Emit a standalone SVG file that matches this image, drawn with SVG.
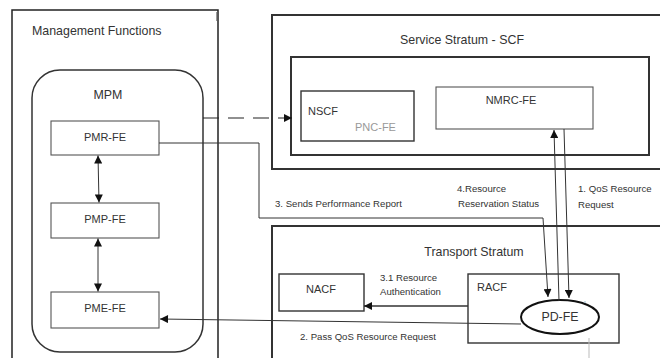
<svg xmlns="http://www.w3.org/2000/svg" width="660" height="358" viewBox="0 0 660 358">
<style>
text{font-family:"Liberation Sans",Arial,sans-serif;fill:#333}
.t{font-size:12.4px}
.n{font-size:11px}
.l{font-size:9.6px}
.c{text-anchor:middle}
.frame{fill:none;stroke:#222;stroke-width:1.5}
.strat{fill:none;stroke:#333;stroke-width:2}
.fe{fill:#fff;stroke:#555;stroke-width:1.1}
.fe2{fill:#fff;stroke:#333;stroke-width:1.4}
.conn{fill:none;stroke:#333;stroke-width:1}
</style>
<defs>
<marker id="ah" viewBox="0 0 10 10" refX="10" refY="5" markerWidth="9" markerHeight="8" markerUnits="userSpaceOnUse" orient="auto-start-reverse">
<path d="M0,0 L10,5 L0,10 z" fill="#111"/>
</marker>
</defs>
<rect width="660" height="358" fill="#fff"/>

<g id="management-functions">
<path class="frame" d="M12,358 V10 H218 V358"/>
<line x1="216.5" y1="12" x2="216.5" y2="21" stroke="#999" stroke-width="1"/>
<text class="t" x="32" y="35">Management Functions</text>
</g>

<g id="mpm">
<rect x="32" y="70" width="171" height="282" rx="28" ry="28" fill="none" stroke="#333" stroke-width="1.5"/>
<text class="t c" x="108" y="99">MPM</text>
</g>

<g id="pmr-fe">
<rect class="fe" x="51" y="121" width="108" height="34"/>
<text class="n c" x="105" y="141">PMR-FE</text>
</g>
<g id="pmp-fe">
<rect class="fe" x="51" y="203" width="108" height="35"/>
<text class="n c" x="105" y="223">PMP-FE</text>
</g>
<g id="pme-fe">
<rect class="fe" x="51" y="292" width="108" height="36"/>
<text class="n c" x="105" y="312">PME-FE</text>
</g>

<g id="service-stratum">
<rect class="strat" x="272" y="15" width="400" height="154"/>
<text class="t c" x="462" y="44">Service Stratum - SCF</text>
<rect class="strat" x="291" y="57" width="358" height="98"/>
</g>

<g id="nscf">
<rect class="fe2" x="301" y="91" width="113" height="50"/>
<text class="n" x="308" y="115">NSCF</text>
<text class="n" x="355" y="131" style="fill:#999">PNC-FE</text>
</g>

<g id="nmrc-fe">
<rect class="fe" x="436" y="87" width="157" height="42"/>
<text class="n c" x="511" y="104">NMRC-FE</text>
</g>

<g id="transport-stratum">
<path class="strat" d="M272,358 V226 H662"/>
<text class="t c" x="474" y="256">Transport Stratum</text>
</g>

<g id="nacf">
<rect class="fe2" x="279" y="274" width="85" height="37"/>
<text class="n c" x="321" y="293">NACF</text>
</g>

<g id="racf">
<rect class="fe2" x="468" y="274" width="151" height="69"/>
<text class="n" x="477" y="291">RACF</text>
</g>

<g id="pd-fe">
<ellipse cx="560" cy="317" rx="39" ry="17" fill="#fff" stroke="#111" stroke-width="2"/>
<text class="t c" x="560" y="321">PD-FE</text>
</g>

<g id="connectors">
<line class="conn" x1="98" y1="155.5" x2="99" y2="202.5" marker-start="url(#ah)" marker-end="url(#ah)"/>
<line class="conn" x1="98" y1="238.5" x2="98" y2="291.5" marker-start="url(#ah)" marker-end="url(#ah)"/>
<line x1="203" y1="118" x2="292" y2="118" fill="none" stroke="#222" stroke-width="1.2" stroke-dasharray="16 9" marker-end="url(#ah)"/>
<polyline class="conn" points="159,143 259,143 259,218 543,218 548,297" marker-end="url(#ah)"/>
<line class="conn" x1="559" y1="301" x2="554" y2="130" marker-end="url(#ah)"/>
<line class="conn" x1="564" y1="129" x2="569" y2="298" marker-end="url(#ah)"/>
<line x1="468" y1="306" x2="364" y2="306" stroke="#333" stroke-width="1.5" marker-end="url(#ah)"/>
<line class="conn" x1="521" y1="324" x2="160" y2="319" marker-end="url(#ah)"/>
<text class="l" x="275" y="207">3. Sends Performance Report</text>
<text class="l" x="457" y="192">4.Resource</text>
<text class="l" x="458" y="207">Reservation Status</text>
<text class="l" x="578" y="192">1. QoS Resource</text>
<text class="l" x="578" y="208">Request</text>
<text class="l" x="380" y="281">3.1 Resource</text>
<text class="l" x="380" y="295">Authentication</text>
<text class="l" x="300" y="340">2. Pass QoS Resource Request</text>
<line x1="589" y1="338" x2="589" y2="358" stroke="#bbb" stroke-width="1"/>
<line x1="584" y1="302" x2="586" y2="302" stroke="#9bc" stroke-width="1"/>
</g>
</svg>
